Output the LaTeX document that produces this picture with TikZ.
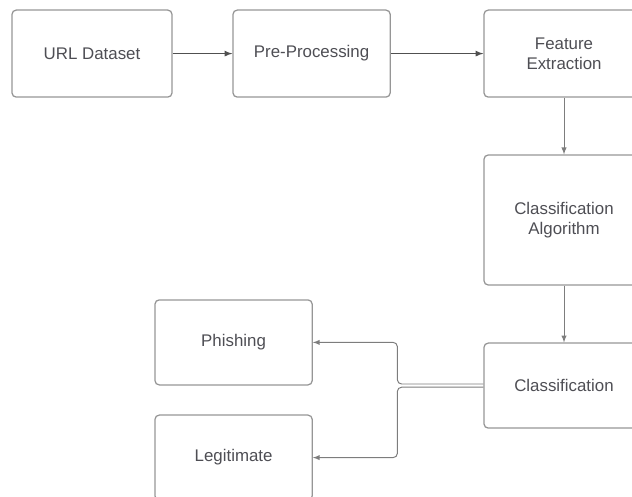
\documentclass[tikz,border=0pt]{standalone}
\usepackage{fontspec}
\setmainfont{Liberation Sans}
\usetikzlibrary{positioning}
\definecolor{boxgray}{RGB}{150,150,150}
\definecolor{txtgray}{RGB}{78,78,84}
\definecolor{arrgray}{RGB}{80,80,80}
\definecolor{linegray}{RGB}{125,125,125}
\tikzstyle{block} = [rectangle, rounded corners=3pt, minimum width=4cm, minimum height=2.175cm, text centered, align=center, draw=boxgray, line width=0.9pt, text=txtgray, font=\fontsize{12}{14.5}\selectfont]
\tikzstyle{flow} = [draw=arrgray, line width=0.9pt, -latex]
\tikzstyle{branch} = [draw=linegray, line width=0.7pt, rounded corners=3pt, -latex]

\begin{document}
\begin{tikzpicture}
\clip (0,0) rectangle (15.8,-12.425);

\node (url) [block] at (2.3,-1.34) {URL Dataset};
\node (pre) [block, minimum width=3.93cm] at (7.79,-1.34) {Pre-Processing};
\node (feat) [block] at (14.1,-1.34) {Feature\\ Extraction};
\node (algo) [block, minimum height=3.25cm] at (14.1,-5.5) {Classification\\ Algorithm};
\node (cls) [block, minimum height=2.125cm] at (14.1,-9.64) {Classification};
\node (phish) [block, minimum width=3.93cm, minimum height=2.125cm] at (5.84,-8.56) {Phishing};
\node (legit) [block, minimum width=3.93cm, minimum height=2.125cm] at (5.84,-11.44) {Legitimate};

\draw[flow] (url.east) -- (pre.west);
\draw[flow] (pre.east) -- (feat.west);
\draw[branch] (feat.south) -- (algo.north);
\draw[branch] (algo.south) -- (cls.north);
\draw[branch] ([yshift=0.04cm]cls.west) -- ++(-2.15,0) |- (phish.east);
\draw[branch] ([yshift=-0.04cm]cls.west) -- ++(-2.15,0) |- (legit.east);

\end{tikzpicture}
\end{document}
